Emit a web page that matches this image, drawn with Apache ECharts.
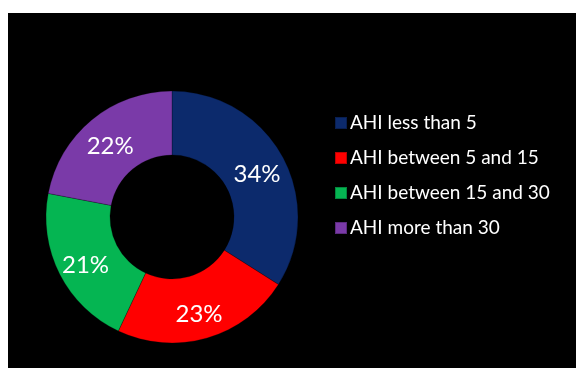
<!DOCTYPE html>
<html>
<head>
<meta charset="utf-8">
<script src="https://cdn.jsdelivr.net/npm/echarts@6/dist/echarts.min.js"></script>
<style>html,body{margin:0;padding:0;background:#fff}#c{width:576px;height:368px}</style>
</head>
<body>
<div id="c"></div>
<script>
const categories = ['AHI less than 5', 'AHI between 5 and 15', 'AHI between 15 and 30', 'AHI more than 30'];
const values = [34, 23, 21, 22];
const colors = ['#0c2a6c', '#ff0000', '#05b552', '#7a3aa8'];

const chart = echarts.init(document.getElementById('c'));
chart.setOption({
  backgroundColor: '#ffffff',
  animation: false,
  graphic: [{
    type: 'rect', z: -10, silent: true,
    shape: { x: 8, y: 13, width: 568, height: 355 },
    style: { fill: '#000000' }
  }],
  legend: {
    orient: 'vertical',
    left: 329,
    top: 108,
    itemWidth: 12,
    itemHeight: 12,
    itemGap: 15,
    icon: 'rect',
    textStyle: { color: '#ffffff', fontSize: 19, lineHeight: 20, fontFamily: 'Lato', padding: [0, 0, 0, -2] },
    data: categories
  },
  series: [{
    type: 'pie',
    center: [172, 217],
    radius: [62, 126],
    startAngle: 90,
    clockwise: true,
    color: colors,
    itemStyle: { borderColor: 'rgba(0,0,0,0.25)', borderWidth: 1 },
    label: {
      show: true,
      position: 'inside',
      formatter: function (p) { return p.value + '%'; },
      color: '#ffffff',
      fontSize: 24,
      fontFamily: 'Lato',
      offset: [0, 4]
    },
    labelLine: { show: false },
    emphasis: { disabled: true },
    data: categories.map((n, i) => ({ name: n, value: values[i] }))
  }]
});
</script>
</body>
</html>
